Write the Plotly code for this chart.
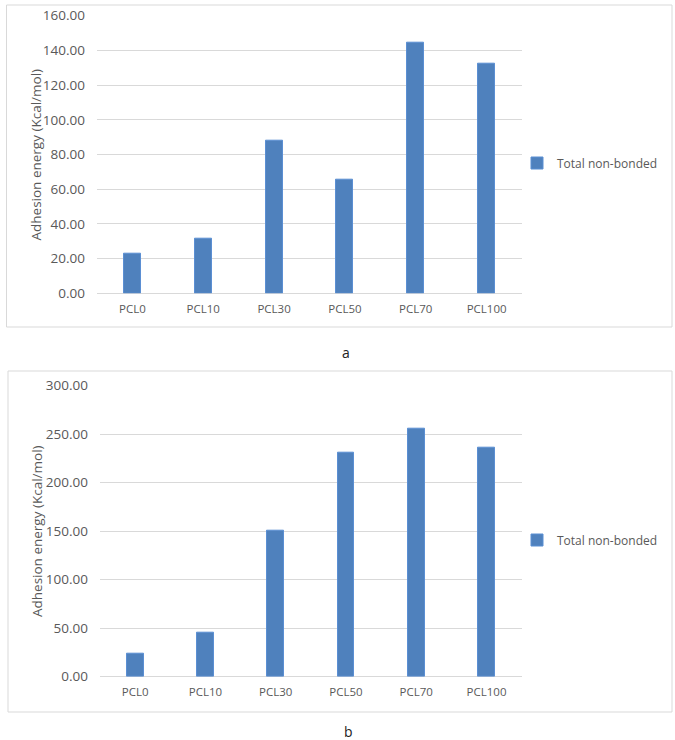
import plotly.graph_objects as go

W, H = 675, 740

categories = ["PCL0", "PCL10", "PCL30", "PCL50", "PCL70", "PCL100"]
values_a = [23.0, 31.5, 87.8, 65.3, 144.4, 132.3]
values_b = [24.1, 45.4, 150.5, 231.3, 255.4, 236.5]
ticks_a = [0, 20, 40, 60, 80, 100, 120, 140, 160]
ticks_b = [0, 50, 100, 150, 200, 250, 300]
series_name = "Total non-bonded"
y_title = "Adhesion energy (Kcal/mol)"

BAR = "#4f81bd"
BAR_LINE = "#5b8fd3"
GRID = "#d9d9d9"
TXT = "#595959"
FONT = "Open Sans"


def px(x):
    return x / W


def py(y):
    return 1 - y / H


fig = go.Figure()
fig.add_trace(go.Bar(x=categories, y=values_a, name=series_name, width=0.24,
                     marker=dict(color=BAR, line=dict(color=BAR_LINE, width=1)),
                     xaxis="x", yaxis="y", legend="legend"))
fig.add_trace(go.Bar(x=categories, y=values_b, name=series_name, width=0.24,
                     marker=dict(color=BAR, line=dict(color=BAR_LINE, width=1)),
                     xaxis="x2", yaxis="y2", legend="legend2"))

xaxis_common = dict(showline=False, ticks="", automargin=False, showgrid=False, zeroline=False,
                    ticklabelstandoff=7,
                    tickfont=dict(family=FONT, size=11.5, color=TXT))
yaxis_common = dict(showline=False, ticks="", automargin=False, tickformat=".2f",
                    showgrid=True, gridcolor=GRID, gridwidth=1,
                    zeroline=True, zerolinecolor=GRID, zerolinewidth=1, ticklabelstandoff=11,
                    tickfont=dict(family=FONT, size=13.5, color=TXT))

fig.update_layout(
    width=W, height=H,
    autosize=False,
    margin=dict(l=0, r=0, t=0, b=0, pad=0),
    paper_bgcolor="white", plot_bgcolor="white",
    font=dict(family=FONT, size=13, color=TXT),
    bargap=0,
    xaxis=dict(domain=[px(97), px(522)], anchor="y", **xaxis_common),
    yaxis=dict(domain=[py(293.3), py(15.7)], anchor="x", range=[0, 160], tickvals=ticks_a,
               **yaxis_common),
    xaxis2=dict(domain=[px(100), px(521.7)], anchor="y2", **xaxis_common),
    yaxis2=dict(domain=[py(676.7), py(385.7)], anchor="x2", range=[0, 300], tickvals=ticks_b,
                **yaxis_common),
    legend=dict(x=px(517), y=py(163), xanchor="left", yanchor="middle",
                font=dict(family=FONT, size=12, color=TXT), bgcolor="rgba(0,0,0,0)"),
    legend2=dict(x=px(517), y=py(540), xanchor="left", yanchor="middle",
                 font=dict(family=FONT, size=12, color=TXT), bgcolor="rgba(0,0,0,0)"),
    showlegend=True,
)

# panel borders
fig.add_shape(type="rect", xref="paper", yref="paper",
              x0=px(6.5), x1=px(672), y0=py(327), y1=py(5),
              line=dict(color=GRID, width=1), fillcolor="rgba(0,0,0,0)", layer="below")
fig.add_shape(type="rect", xref="paper", yref="paper",
              x0=px(8), x1=px(672), y0=py(712), y1=py(371),
              line=dict(color=GRID, width=1), fillcolor="rgba(0,0,0,0)", layer="below")

# axis titles
fig.add_annotation(text=y_title, xref="paper", yref="paper", x=px(35), y=py(154.5),
                   textangle=-90, showarrow=False, xanchor="center", yanchor="middle",
                   font=dict(family=FONT, size=13.5, color=TXT))
fig.add_annotation(text=y_title, xref="paper", yref="paper", x=px(37), y=py(531),
                   textangle=-90, showarrow=False, xanchor="center", yanchor="middle",
                   font=dict(family=FONT, size=13.5, color=TXT))

# panel labels
fig.add_annotation(text="a", xref="paper", yref="paper", x=px(346), y=py(352),
                   showarrow=False, xanchor="center", yanchor="middle",
                   font=dict(family=FONT, size=14, color="#222222"))
fig.add_annotation(text="b", xref="paper", yref="paper", x=px(348), y=py(731),
                   showarrow=False, xanchor="center", yanchor="middle",
                   font=dict(family=FONT, size=14, color="#222222"))

page_fix = ("document.documentElement.style.margin='0';"
            "document.body.style.margin='0';document.body.style.padding='0';"
            "document.body.style.overflow='hidden';")

fig.write_html("out.html", post_script=page_fix, config={"displayModeBar": False})
